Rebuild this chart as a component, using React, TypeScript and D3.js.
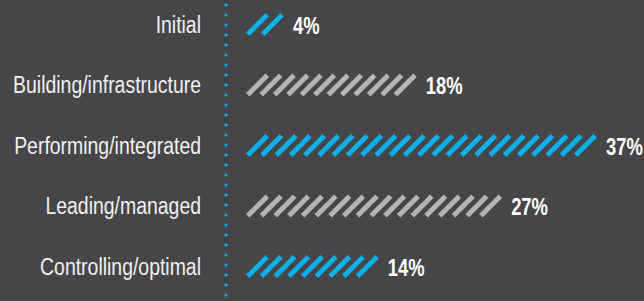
import React from "react";
import * as d3 from "d3";

const categories = ["Initial", "Building/infrastructure", "Performing/integrated", "Leading/managed", "Controlling/optimal"];
const values = [4, 18, 37, 27, 14];
const highlighted = [true, false, true, false, true];
const valueLabels = ["4%", "18%", "37%", "27%", "14%"];

const W = 644;
const H = 301;
const BG = "#464648";
const BLUE = "#0eaee6";
const GRAY = "#b2b4b6";
const FONT = "'Liberation Sans', Arial, sans-serif";
const SQUEEZE = 0.81;

export default function App() {
  const x = d3.scaleLinear().domain([0, 37]).range([246, 597]);
  const y = d3.scalePoint<string>().domain(categories).range([24.5, 266.5]);
  const barH = 23;
  const t = 5; // stripe thickness
  const half = barH / 2;
  const len = barH * Math.SQRT2 - t;
  const pitch = 14;

  return (
    <svg width={W} height={H} style={{ position: "absolute", left: 0, top: 0, display: "block" }}>
      <rect x={0} y={0} width={W} height={H} fill={BG} />
      <line x1={226} x2={226} y1={5} y2={H} stroke={BLUE} strokeWidth={3.2} strokeLinecap="round" strokeDasharray="0 10" />
      {categories.map((c, i) => {
        const cy = y(c) as number;
        const x0 = x(0);
        const x1 = x(values[i]);
        const span = x1 - x0 - 2 * half;
        const n = Math.max(2, Math.round(span / pitch) + 1);
        const p = span / (n - 1);
        const d = len / 2 / Math.SQRT2;
        const col = highlighted[i] ? BLUE : GRAY;
        return (
          <g key={c}>
            <text transform={`translate(201,${cy}) scale(${SQUEEZE},1)`} textAnchor="end" dominantBaseline="central" fill="#f0f0f0" fontFamily={FONT} fontSize={24}>
              {c}
            </text>
            {d3.range(n).map((k) => {
              const cx = x0 + half + k * p;
              return (
                <line key={k} x1={cx - d} y1={cy + d} x2={cx + d} y2={cy - d} stroke={col} strokeWidth={t} strokeLinecap="butt" />
              );
            })}
            <text transform={`translate(${x1 + 9},${cy + 1}) scale(0.8,1)`} dominantBaseline="central" fill="#ffffff" fontFamily={FONT} fontWeight="bold" fontSize={23}>
              {valueLabels[i]}
            </text>
          </g>
        );
      })}
    </svg>
  );
}
